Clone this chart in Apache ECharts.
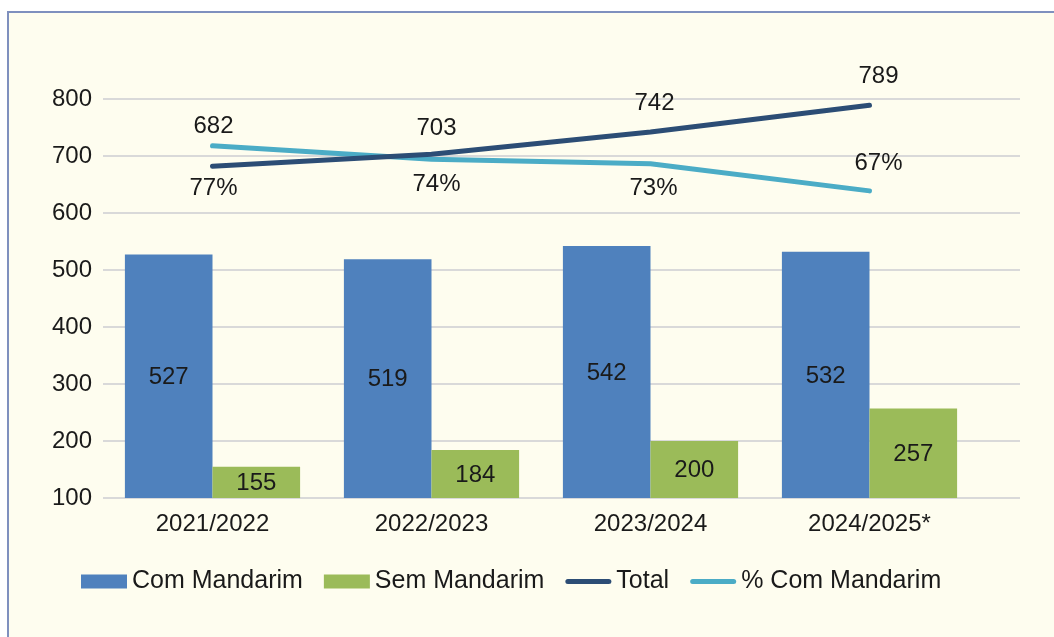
<!DOCTYPE html>
<html>
<head>
<meta charset="utf-8">
<script src="https://cdn.jsdelivr.net/npm/echarts@6/dist/echarts.min.js"></script>
<style>
    html, body { margin: 0; padding: 0; background: #ffffff; }
    #frame {
        position: absolute; left: 7px; top: 11px; width: 1047px; height: 626px;
        background: #FEFDEF;
        border-left: 2px solid #7F90BE; border-top: 2px solid #7F90BE;
        box-sizing: border-box;
    }
    #main { position: absolute; left: 0; top: 0; width: 1054px; height: 637px; }
</style>
</head>
<body>
<div id="frame"></div>
<div id="main"></div>
<script>
// categorias e valores
var years = ['2021/2022', '2022/2023', '2023/2024', '2024/2025*'];
var comMandarim = [527, 519, 542, 532];
var semMandarim = [155, 184, 200, 257];
var total = [682, 703, 742, 789];
var pctCom = [77, 74, 73, 67];
var yTicks = [100, 800, 100]; // min, max, interval

// posição das etiquetas das linhas (lado, distância, desvio x), como no original
var totalLabelPos = [['top', 27, 1], ['top', 13, 5], ['top', 16, 4], ['top', 16, 9]];
var pctLabelPos = [['bottom', 30, 1], ['bottom', 12, 5], ['bottom', 12, 3], ['top', 14, 9]];

var font = 'Liberation Sans, Arial, sans-serif';
var txt = '#1a1a1a';
var lineIcon = 'path://M2.5,0 L43.5,0 A2.5,2.5 0 0 1 43.5,5 L2.5,5 A2.5,2.5 0 0 1 2.5,0 Z';

function withLabels(values, pos, suffix) {
    return values.map(function (v, i) {
        return {
            value: v,
            label: {
                position: pos[i][0],
                distance: pos[i][1],
                offset: [pos[i][2], 0],
                formatter: v + suffix
            }
        };
    });
}

// etiquetas das linhas numa série scatter invisível
function labelSeries(name, yIdx, values, pos, suffix) {
    return {
        name: name,
        type: 'scatter',
        xAxisIndex: 1, yAxisIndex: yIdx,
        symbolSize: 2,
        itemStyle: { color: 'rgba(0,0,0,0)' },
        emphasis: { disabled: true },
        data: withLabels(values, pos, suffix),
        label: { show: true, fontSize: 24, color: txt, fontFamily: font, opacity: 1 },
        z: 5
    };
}

var myChart = echarts.init(document.getElementById('main'), null, { renderer: 'canvas' });

myChart.setOption({
    backgroundColor: 'transparent',
    textStyle: { fontFamily: font },
    animation: false,
    legend: {
        left: 76,
        top: 564,
        itemWidth: 46,
        itemHeight: 14,
        itemGap: 21,
        symbolKeepAspect: true,
        textStyle: { fontSize: 25, color: txt, fontFamily: font },
        data: [
            { name: 'Com Mandarim', icon: 'rect' },
            { name: 'Sem Mandarim', icon: 'rect' },
            { name: 'Total', icon: lineIcon },
            { name: '% Com Mandarim', icon: lineIcon }
        ]
    },
    grid: [
        { left: 103, right: 34, top: 99, bottom: 139 },
        { left: 103, width: 876, top: 99, bottom: 139 }
    ],
    xAxis: [
        { gridIndex: 0, type: 'category', data: years, show: false },
        {
            gridIndex: 1,
            type: 'category',
            data: years,
            axisLine: { show: false },
            axisTick: { show: false },
            axisLabel: { fontSize: 24, color: txt, margin: 14, fontFamily: font }
        }
    ],
    yAxis: [
        {
            gridIndex: 0,
            type: 'value',
            min: yTicks[0], max: yTicks[1], interval: yTicks[2],
            axisLine: { show: false },
            axisTick: { show: false },
            axisLabel: { fontSize: 24, color: txt, margin: 11, fontFamily: font },
            splitLine: { lineStyle: { color: '#D9D9D9', width: 2 } }
        },
        { gridIndex: 1, type: 'value', min: yTicks[0], max: yTicks[1], show: false },
        { gridIndex: 1, type: 'value', min: -1.2, max: 87.4, show: false }
    ],
    series: [
        {
            name: 'Com Mandarim',
            type: 'bar',
            xAxisIndex: 1, yAxisIndex: 1,
            data: comMandarim,
            barGap: '0%',
            barCategoryGap: '20%',
            itemStyle: { color: '#4F81BD' },
            label: { show: true, position: 'inside', fontSize: 24, color: txt, fontFamily: font, offset: [0, 1] }
        },
        {
            name: 'Sem Mandarim',
            type: 'bar',
            xAxisIndex: 1, yAxisIndex: 1,
            data: semMandarim,
            itemStyle: { color: '#9BBB59' },
            label: { show: true, position: 'inside', fontSize: 24, color: txt, fontFamily: font, offset: [0, 1] }
        },
        {
            name: '% Com Mandarim',
            type: 'line',
            xAxisIndex: 1, yAxisIndex: 2,
            data: pctCom,
            symbol: 'none',
            lineStyle: { color: '#4BACC6', width: 5, cap: 'round' },
            itemStyle: { color: '#4BACC6' }
        },
        {
            name: 'Total',
            type: 'line',
            xAxisIndex: 1, yAxisIndex: 1,
            data: total,
            symbol: 'none',
            lineStyle: { color: '#2C4D75', width: 5, cap: 'round' },
            itemStyle: { color: '#2C4D75' }
        },
        labelSeries('lblPct', 2, pctCom, pctLabelPos, '%'),
        labelSeries('lblTotal', 1, total, totalLabelPos, '')
    ]
});
</script>
</body>
</html>
